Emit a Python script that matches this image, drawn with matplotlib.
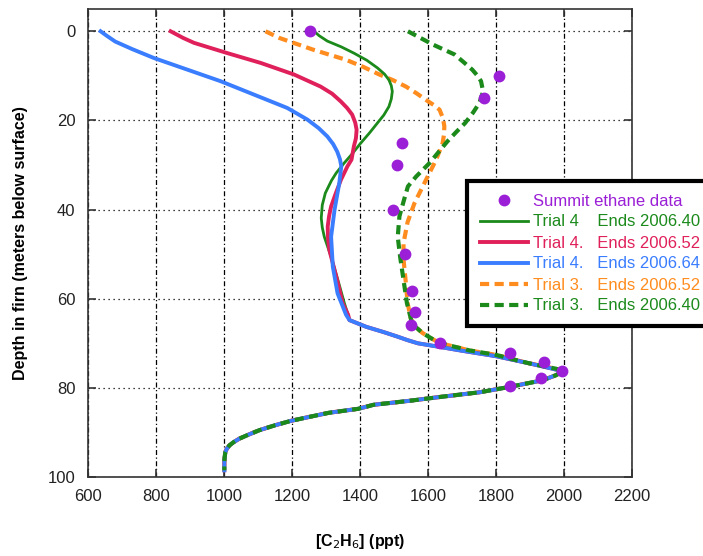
import matplotlib
matplotlib.use('Agg')
import matplotlib.pyplot as plt
'''Ethane firn profiles, Summit: model trials vs. measured data'''

plt.rcParams['font.family'] = ['Liberation Sans', 'DejaVu Sans']

# measured ethane in firn air
data_depth = [0, 10, 15, 25, 30, 40, 50, 58.3, 62.9, 65.9, 70, 72.1, 74.3, 76.2, 77.9, 79.5]
data_conc = [1252, 1808, 1765, 1523, 1510, 1497, 1531, 1554, 1562, 1549, 1636, 1842, 1940, 1995, 1933, 1842]

# deep part, same for every trial
deep_depth = [76.3, 77.2, 78.3, 79.8, 81.0, 82.0, 82.9, 83.8, 84.7, 85.6, 86.5, 87.4, 88.4,
              89.5, 90.5, 91.4, 92.2, 92.9, 93.7, 94.4, 95.5, 96.5, 98.5]
deep_conc = [1998, 1975, 1937, 1839, 1751, 1640, 1546, 1440, 1395, 1308, 1252, 1197, 1150,
             1104, 1072, 1045, 1028, 1016, 1008, 1004, 1002, 1001, 1001]

# bend from the shallow part into the deep part (trial 4 runs)
t4_bend_depth = [64.8, 66.3, 67.5, 68.5, 69.3, 70.0, 70.8, 71.7, 72.9, 74.5, 75.6]
t4_bend_conc = [1369, 1418, 1470, 1510, 1540, 1570, 1633, 1702, 1800, 1898, 1960]

# trial 3 runs share this bend
t3_bend_depth = [64.6, 66.3, 67.7, 69.0, 70.0, 70.8, 71.6, 72.6, 73.6, 74.5, 75.7]
t3_bend_conc = [1550, 1563, 1584, 1612, 1636, 1680, 1722, 1800, 1850, 1898, 1976]

# Trial 4, ends 2006.40
t4a_depth = [0, 1.0, 2.2, 3.5, 4.9, 6.5, 8.2, 9.6, 10.9, 12.2, 13.5, 15.2, 16.9, 18.8, 20.6,
             22.8, 25.1, 27.4, 29.6, 31.8, 33.5, 36.3, 39.0, 41.9, 44.0, 46.1, 50.6, 55.8, 61.0, 63.6]
t4a_conc = [1265, 1280, 1304, 1345, 1382, 1420, 1451, 1472, 1485, 1492, 1495, 1492, 1485, 1470, 1451,
            1428, 1402, 1378, 1353, 1330, 1316, 1298, 1289, 1286, 1289, 1295, 1315, 1335, 1354, 1365]

# Trial 4, ends 2006.52
t4b_depth = [0, 1.5, 2.6, 4.9, 7.1, 9.7, 12.4, 14.0, 15.7, 17.2, 18.7, 20.5, 22.1, 24.0, 25.8,
             28.8, 30.3, 33.3, 36.5, 39.3, 41.5, 43.8, 46.5, 49.1, 55.0, 61.0, 63.6]
t4b_conc = [843, 880, 912, 1010, 1108, 1206, 1284, 1318, 1343, 1362, 1377, 1386, 1390, 1388, 1382,
            1375, 1363, 1344, 1328, 1315, 1309, 1305, 1306, 1310, 1330, 1349, 1365]

# Trial 4, ends 2006.64
t4c_depth = [0, 1.0, 2.3, 4.0, 6.0, 8.6, 11.2, 14.2, 17.2, 19.8, 21.7, 23.6, 25.3, 27.0, 28.7,
             30.3, 34.1, 40.1, 46.1, 52.8, 58.8, 63.6]
t4c_conc = [637, 655, 680, 730, 794, 892, 990, 1088, 1186, 1245, 1278, 1304, 1321, 1333, 1341,
            1345, 1339, 1325, 1315, 1320, 1334, 1359]

# Trial 3, ends 2006.52
t3a_depth = [0, 1.5, 3.4, 4.1, 6.4, 8.0, 9.7, 11.0, 12.4, 14.0, 15.4, 16.5, 17.6, 19.5, 21.3,
             23.2, 25.1, 28.8, 32.6, 35.5, 38.6, 42.8, 47.5, 51.2, 55.8, 61.0]
t3a_conc = [1122, 1163, 1235, 1261, 1359, 1410, 1457, 1498, 1535, 1568, 1594, 1616, 1634, 1644, 1648,
            1647, 1643, 1624, 1599, 1580, 1560, 1540, 1528, 1528, 1534, 1540]

# Trial 3, ends 2006.40
t3b_depth = [0, 1.5, 3.0, 5.2, 7.0, 8.6, 10.0, 11.2, 13.5, 16.1, 18.3, 20.6, 22.6, 24.7, 27.2,
             29.6, 32.6, 34.8, 37.4, 41.5, 46.1, 50.6, 55.8, 61.0]
t3b_conc = [1541, 1578, 1615, 1678, 1706, 1730, 1746, 1756, 1762, 1751, 1732, 1709, 1683, 1657, 1630,
            1604, 1565, 1541, 1531, 1516, 1511, 1518, 1528, 1538]

green = '#1b8a1b'
red = '#e0205a'
blue = '#3a7dff'
orange = '#ff8c1e'
purple = '#9b1fd6'

fig = plt.figure(figsize=(7.03, 5.56), dpi=100)
ax = fig.add_axes([0.1252, 0.1421, 0.7738, 0.8417])

# solid trial 4 curves
ax.plot(t4a_conc + t4_bend_conc + deep_conc, t4a_depth + t4_bend_depth + deep_depth,
        color=green, lw=2.0, label='Trial 4    Ends 2006.40', zorder=2)
ax.plot(t4b_conc + t4_bend_conc + deep_conc, t4b_depth + t4_bend_depth + deep_depth,
        color=red, lw=2.8, label='Trial 4.   Ends 2006.52', zorder=2)
ax.plot(t4c_conc + t4_bend_conc + deep_conc, t4c_depth + t4_bend_depth + deep_depth,
        color=blue, lw=2.8, label='Trial 4.   Ends 2006.64', zorder=2)

# dashed trial 3 curves (orange sits under the solid lines, green dashed on top)
ax.plot(t3a_conc + t3_bend_conc + deep_conc, t3a_depth + t3_bend_depth + deep_depth,
        color=orange, lw=3.0, dashes=(2.2, 1.3), label='Trial 3.   Ends 2006.52', zorder=1.5)
ax.plot(t3b_conc + t3_bend_conc + deep_conc, t3b_depth + t3_bend_depth + deep_depth,
        color=green, lw=3.0, dashes=(2.2, 1.3), label='Trial 3.   Ends 2006.40', zorder=2.5)

# data on top
ax.plot(data_conc, data_depth, 'o', color=purple, markersize=7.5, linestyle='none',
        label='Summit ethane data', zorder=5)

# axes and grid
ax.set_xlim(600, 2200)
ax.set_ylim(100, -5)
ax.set_xticks(range(600, 2201, 200))
ax.set_yticks(range(0, 101, 20))
ax.xaxis.grid(True, color='black', lw=0.9, linestyle=(0, (4, 2, 1, 2)))
ax.yaxis.grid(True, color='black', lw=0.9, linestyle=(0, (1, 3)))
ax.set_axisbelow(True)
ax.tick_params(axis='both', direction='in', length=6, width=1.2, top=True, right=True,
               labelsize=12, labelcolor='#222222', color='#333333')
ax.tick_params(axis='x', pad=9)
ax.tick_params(axis='y', pad=9)
for s in ax.spines.values():
    s.set_color('#333333')
    s.set_linewidth(1.2)

ax.set_xlabel('[C$_2$H$_6$] (ppt)', fontsize=11.5, fontweight='bold', labelpad=20)
ax.set_ylabel('Depth in firn (meters below surface)', fontsize=11.5, fontweight='bold', labelpad=14)

# legend, order as in the original
h, l = ax.get_legend_handles_labels()
order = [5, 0, 1, 2, 3, 4]
leg = fig.legend([h[i] for i in order], [l[i] for i in order],
                 loc='upper left', bbox_to_anchor=(467 / 703, 1 - 181 / 556),
                 bbox_transform=fig.transFigure, fontsize=12, frameon=True, fancybox=False,
                 framealpha=1, edgecolor='black', borderpad=0.75, labelspacing=0.36,
                 handlelength=2.9, handletextpad=0.3, numpoints=1, borderaxespad=0,
                 labelcolor=[purple, green, red, blue, orange, green])
leg.get_frame().set_linewidth(3)

plt.savefig('out.png', dpi=100)
